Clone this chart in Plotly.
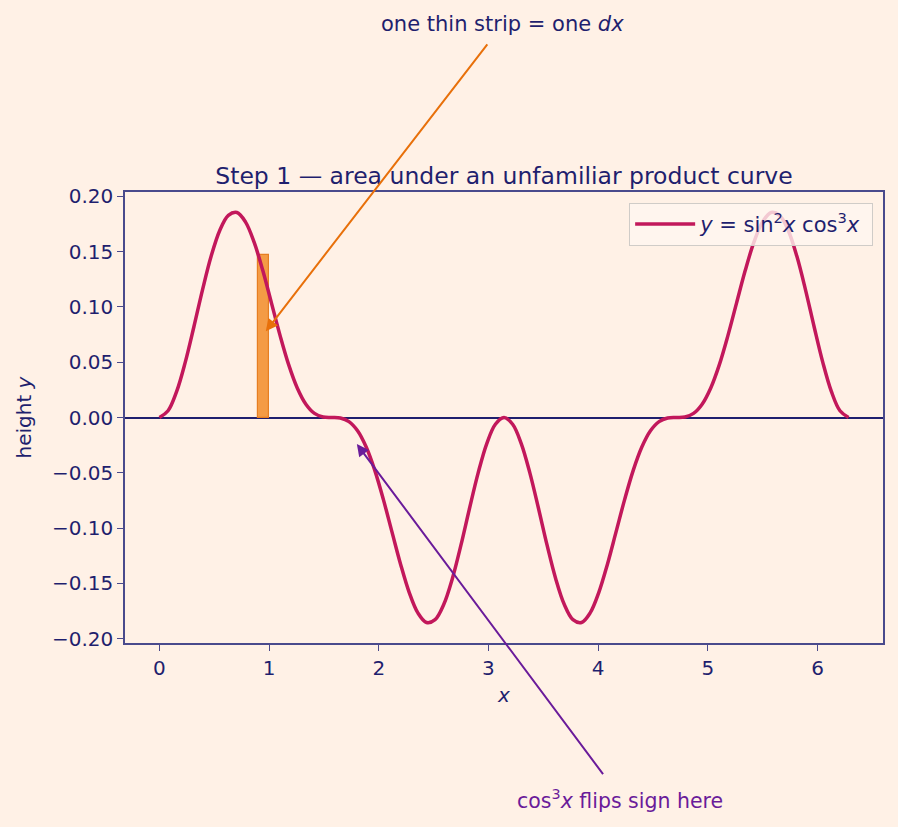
import plotly.graph_objects as go

# curve samples (x in radians, y = sin^2 x cos^3 x)
x_vals = [0.0000, 0.0785, 0.1571, 0.2356, 0.3142, 0.3927, 0.4712, 0.5498, 0.6283, 0.7069,
          0.7854, 0.8639, 0.9425, 1.0210, 1.0996, 1.1781, 1.2566, 1.3352, 1.4137, 1.4923,
          1.5708, 1.6493, 1.7279, 1.8064, 1.8850, 1.9635, 2.0420, 2.1206, 2.1991, 2.2777,
          2.3562, 2.4347, 2.5133, 2.5918, 2.6704, 2.7489, 2.8274, 2.9060, 2.9845, 3.0631,
          3.1416, 3.2201, 3.2987, 3.3772, 3.4558, 3.5343, 3.6128, 3.6914, 3.7699, 3.8485,
          3.9270, 4.0055, 4.0841, 4.1626, 4.2412, 4.3197, 4.3982, 4.4768, 4.5553, 4.6339,
          4.7124, 4.7909, 4.8695, 4.9480, 5.0265, 5.1051, 5.1836, 5.2622, 5.3407, 5.4193,
          5.4978, 5.5763, 5.6549, 5.7334, 5.8119, 5.8905, 5.9690, 6.0476, 6.1261, 6.2046,
          6.2832]
y_vals = [0.0000, 0.0061, 0.0236, 0.0501, 0.0821, 0.1155, 0.1458, 0.1692, 0.1829, 0.1855,
          0.1768, 0.1584, 0.1329, 0.1037, 0.0743, 0.0478, 0.0267, 0.0120, 0.0037, 0.0005,
          0.0000, -0.0005, -0.0037, -0.0120, -0.0267, -0.0478, -0.0743, -0.1037, -0.1329, -0.1584,
          -0.1768, -0.1855, -0.1829, -0.1692, -0.1458, -0.1155, -0.0821, -0.0501, -0.0236, -0.0061,
          0.0000, -0.0061, -0.0236, -0.0501, -0.0821, -0.1155, -0.1458, -0.1692, -0.1829, -0.1855,
          -0.1768, -0.1584, -0.1329, -0.1037, -0.0743, -0.0478, -0.0267, -0.0120, -0.0037, -0.0005,
          0.0000, 0.0005, 0.0037, 0.0120, 0.0267, 0.0478, 0.0743, 0.1037, 0.1329, 0.1584,
          0.1768, 0.1855, 0.1829, 0.1692, 0.1458, 0.1155, 0.0821, 0.0501, 0.0236, 0.0061,
          0.0000]

# one thin strip
strip_left = 0.9
strip_width = 0.1
strip_height = 0.147

x_ticks = [0, 1, 2, 3, 4, 5, 6]
y_ticks = [-0.20, -0.15, -0.10, -0.05, 0.00, 0.05, 0.10, 0.15, 0.20]

BG = "#FFF1E6"
NAVY = "#1F1F6E"
SPINE = "#4A4A8C"
CRIMSON = "#C2185B"
ORANGE = "#E8700A"
PURPLE = "#6A1B9A"
FONT = "DejaVu Sans"

fig = go.Figure()
fig.add_trace(go.Bar(
    x=[strip_left + strip_width / 2], y=[strip_height], base=[0], width=[strip_width],
    marker=dict(color="rgba(242,140,40,0.85)", line=dict(color="#E67E22", width=1.2)),
    showlegend=False, hoverinfo="skip"))
fig.add_trace(go.Scatter(
    x=x_vals, y=y_vals, mode="lines",
    line=dict(color=CRIMSON, width=3.5, shape="spline", smoothing=1.0),
    name="<i>y</i> = sin<sup>2</sup><i>x</i> cos<sup>3</sup><i>x</i>\u00a0"))

axis_common = dict(
    showgrid=False, showline=True, linecolor=SPINE, linewidth=1.5, mirror=True,
    ticks="outside", ticklen=6, tickwidth=1.3, tickcolor=SPINE,
    tickfont=dict(family=FONT, size=20, color=NAVY),
)
fig.update_xaxes(range=[-0.314, 6.597], tickvals=x_ticks, zeroline=False,
                 title=dict(text="<i>x</i>", font=dict(family=FONT, size=20, color=NAVY), standoff=9),
                 **axis_common)
fig.update_yaxes(range=[-0.204, 0.204], tickvals=y_ticks, tickformat=".2f",
                 zeroline=True, zerolinecolor=NAVY, zerolinewidth=1.5,
                 title=dict(text="height <i>y</i>", font=dict(family=FONT, size=20, color=NAVY), standoff=15),
                 **axis_common)

fig.add_annotation(x=0.97, y=0.078, xref="x", yref="y", ax=3.0, ay=0.339, axref="x", ayref="y",
                   text="", showarrow=True, arrowhead=2, arrowsize=1.2, arrowwidth=2, arrowcolor=ORANGE)
fig.add_annotation(x=3.13, y=1.3725, xref="x", yref="paper", text="one thin strip = one <i>dx</i>",
                   showarrow=False, font=dict(family=FONT, size=21, color=NAVY),
                   xanchor="center", yanchor="middle")
fig.add_annotation(x=1.8, y=-0.024, xref="x", yref="y", ax=4.055, ay=-0.324, axref="x", ayref="y",
                   text="", showarrow=True, arrowhead=2, arrowsize=1.2, arrowwidth=2, arrowcolor=PURPLE)
fig.add_annotation(x=4.2, y=-0.3459, xref="x", yref="paper", text="cos<sup>3</sup><i>x</i> flips sign here",
                   showarrow=False, font=dict(family=FONT, size=20.5, color=PURPLE),
                   xanchor="center", yanchor="middle")

fig.update_layout(
    width=898, height=827,
    margin=dict(l=125, r=15, t=192, b=184, pad=0),
    paper_bgcolor=BG, plot_bgcolor=BG,
    font=dict(family=FONT, size=20, color=NAVY),
    title=dict(text="Step 1 — area under an unfamiliar product curve",
               font=dict(family=FONT, size=23.5, color=NAVY),
               x=0.5, xref="paper", xanchor="center", y=1, yref="paper", yanchor="bottom",
               pad=dict(b=8)),
    legend=dict(x=0.987, y=0.976, xanchor="right", yanchor="top",
                bgcolor="rgba(255,246,240,0.8)", bordercolor="#D0CCC8", borderwidth=1,
                itemwidth=60,
                font=dict(family=FONT, size=21, color=NAVY)),
    bargap=0,
)

fig.write_html("out.html")
